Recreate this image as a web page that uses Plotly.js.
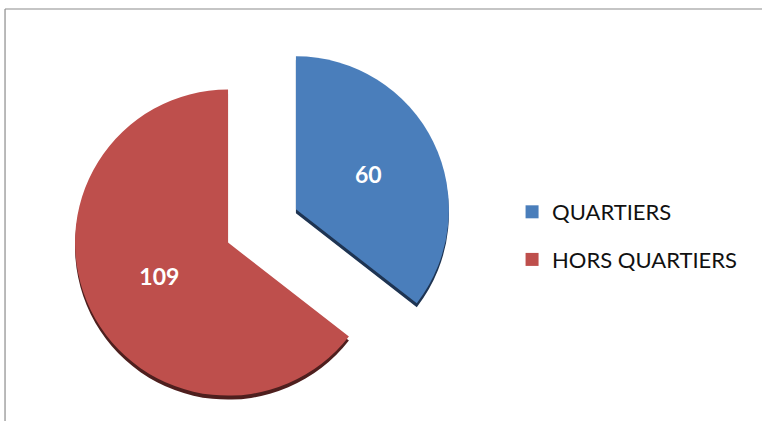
<!DOCTYPE html>
<html>
<head>
<meta charset="utf-8">
<script src="https://cdn.plot.ly/plotly-3.0.1.min.js"></script>
<style>
  html, body { margin: 0; padding: 0; background: #ffffff; }
  #chart { width: 762px; height: 421px; }
</style>
</head>
<body>
<div id="chart"></div>
<script>
// Data
var categories = ["QUARTIERS", "HORS QUARTIERS"];
var values = [60, 109];
var sliceColors = ["#4A7EBB", "#BE4F4C"];
var depthColors = ["#1E3452", "#4E1F1E"];

var domX = [0.0934, 0.5942];
var domY = [0.0100, 0.9164];
var depthShift = 0.0095;
var pullAmt = 0.247;

var depth = {
  type: "pie",
  labels: categories,
  values: values,
  sort: false,
  direction: "clockwise",
  rotation: 0,
  pull: [pullAmt, pullAmt],
  marker: { colors: depthColors, line: { width: 0 } },
  textinfo: "none",
  hoverinfo: "skip",
  showlegend: false,
  domain: { x: domX, y: [domY[0] - depthShift, domY[1] - depthShift] }
};

var pie = {
  type: "pie",
  labels: categories,
  values: values,
  sort: false,
  direction: "clockwise",
  rotation: 0,
  pull: [pullAmt, pullAmt],
  marker: { colors: sliceColors, line: { width: 0 } },
  textinfo: "value",
  textposition: "inside",
  insidetextorientation: "horizontal",
  insidetextfont: { family: "Lato, 'Open Sans', sans-serif", size: 23, color: "#ffffff", weight: "bold" },
  hoverinfo: "label+value",
  showlegend: false,
  domain: { x: domX, y: domY }
};

// Legend entries (one per category, spaced like the reference)
var legendTraces = categories.map(function (c, i) {
  return {
    type: "scatter",
    mode: "markers",
    x: [null], y: [null],
    name: c,
    legendgroup: "g" + i,
    marker: { symbol: "square", size: 13, color: sliceColors[i] },
    hoverinfo: "skip"
  };
});

var layout = {
  width: 762,
  height: 421,
  margin: { l: 0, r: 0, t: 0, b: 0 },
  paper_bgcolor: "#ffffff",
  plot_bgcolor: "rgba(0,0,0,0)",
  xaxis: { visible: false },
  yaxis: { visible: false },
  showlegend: true,
  legend: {
    x: 0.672, xanchor: "left",
    y: 0.4394, yanchor: "middle",
    font: { family: "Lato, 'Open Sans', sans-serif", size: 22, color: "#111111" },
    bgcolor: "rgba(0,0,0,0)",
    traceorder: "grouped",
    tracegroupgap: 16
  },
  shapes: [
    { type: "line", xref: "paper", yref: "paper", x0: 0.0066, x1: 1, y0: 0.9786, y1: 0.9786,
      line: { color: "#8c8c8c", width: 1.2 } },
    { type: "line", xref: "paper", yref: "paper", x0: 0.0066, x1: 0.0066, y0: 0, y1: 0.9786,
      line: { color: "#8c8c8c", width: 1.2 } }
  ]
};

Plotly.newPlot("chart", [depth, pie].concat(legendTraces), layout, { displayModeBar: false, staticPlot: true });
</script>
</body>
</html>
